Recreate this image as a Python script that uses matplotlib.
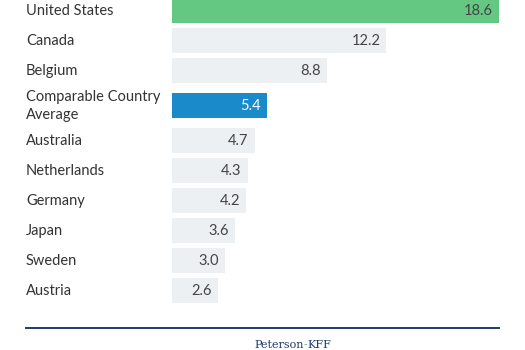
import matplotlib
matplotlib.use("Agg")
import matplotlib.pyplot as plt
import matplotlib.transforms as mtransforms
from matplotlib.lines import Line2D

countries = ["United States", "Canada", "Belgium", "Comparable Country\nAverage",
             "Australia", "Netherlands", "Germany", "Japan", "Sweden", "Austria"]
values = [18.6, 12.2, 8.8, 5.4, 4.7, 4.3, 4.2, 3.6, 3.0, 2.6]
value_labels = ["18.6", "12.2", "8.8", "5.4", "4.7", "4.3", "4.2", "3.6", "3.0", "2.6"]

GREEN = "#64c882"
BLUE = "#1a8acb"
GRAY = "#ecf0f2"
NAVY = "#1f3a6e"

W, H = 525, 350
fig = plt.figure(figsize=(W / 100, H / 100), dpi=100)
fig.patch.set_facecolor("white")

left_px, right_px = 172, 499
ax = fig.add_axes([left_px / W, 0, (right_px - left_px) / W, 1])
ax.set_xlim(0, max(values))
ax.set_ylim(H, 0)
ax.axis("off")

centers = []
c = 10.5
prev_half = None
for lab in countries:
    half = 15 if "\n" not in lab else 20
    if prev_half is not None:
        c += prev_half + half
    centers.append(c)
    prev_half = half

colors = []
for lab in countries:
    if lab == "United States":
        colors.append(GREEN)
    elif lab.startswith("Comparable"):
        colors.append(BLUE)
    else:
        colors.append(GRAY)

ax.barh(centers, values, height=25, color=colors, edgecolor="none")

label_tr = mtransforms.blended_transform_factory(fig.transFigure, ax.transData)
pad = mtransforms.offset_copy(ax.transData, fig=fig, x=-6, y=0, units="dots")
for y, v, lab, vl, col in zip(centers, values, countries, value_labels, colors):
    ax.text(26 / W, y + 0.5, lab, transform=label_tr, ha="left", va="center",
            fontsize=10.5, family="Lato", color="#333333", linespacing=1.45)
    tc = "white" if col == BLUE else "#444444"
    ax.text(v, y + 0.5, vl, transform=pad, ha="right", va="center",
            fontsize=10.5, family="Lato", color=tc)

fig.add_artist(Line2D([26 / W, 499 / W], [1 - 327.5 / H, 1 - 327.5 / H],
                      transform=fig.transFigure, color=NAVY, lw=1.4))

fig.canvas.draw()
r = fig.canvas.get_renderer()
parts = [("Peterson", NAVY), ("-", GREEN), ("KFF", NAVY)]
kw = dict(fontsize=8, family="DejaVu Serif", va="center")
widths = []
for t, col in parts:
    tmp = fig.text(0, 0, t, **kw)
    widths.append(tmp.get_window_extent(r).width)
    tmp.remove()
total = sum(widths)
x = 292.5 - total / 2
for (t, col), w in zip(parts, widths):
    fig.text(x / W, 1 - 345 / H, t, color=col, ha="left", **kw)
    x += w

fig.savefig("out.png", dpi=100, facecolor="white")
